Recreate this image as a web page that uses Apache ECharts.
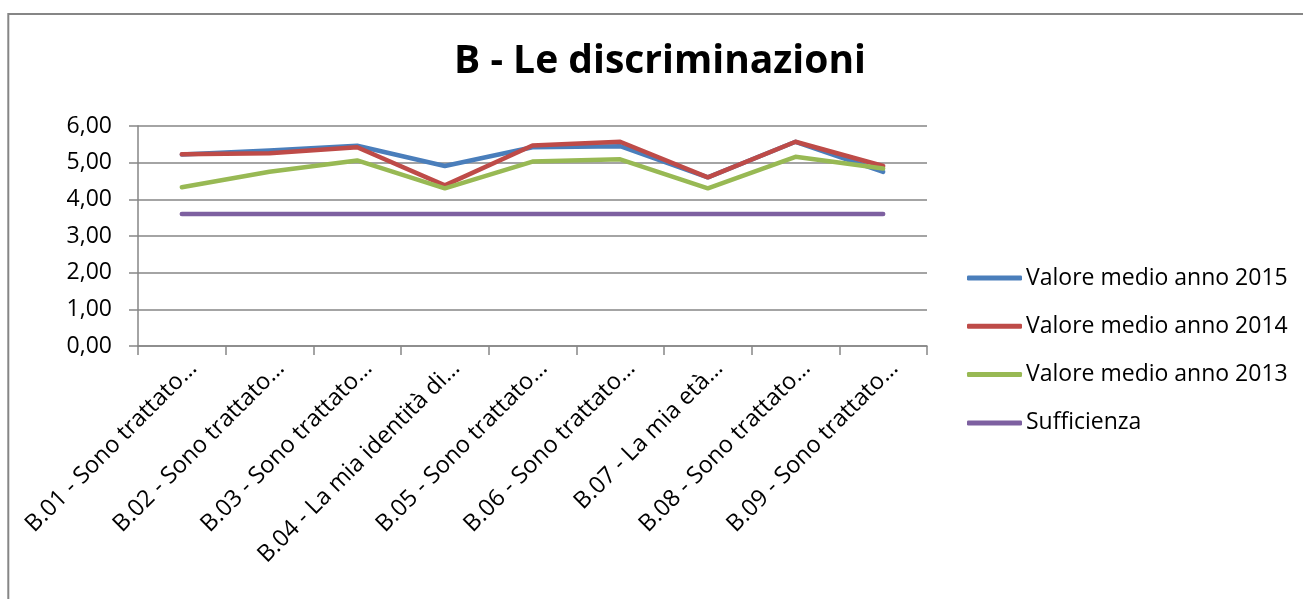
<!DOCTYPE html>
<html>
<head>
<meta charset="utf-8">
<script src="https://cdn.jsdelivr.net/npm/echarts@6/dist/echarts.min.js"></script>
<style>
html,body{margin:0;padding:0;background:#fff;}
#chart{width:1303px;height:599px;}
</style>
</head>
<body>
<div id="chart"></div>
<script>
const categories = [
  "B.01 - Sono trattato…",
  "B.02 - Sono trattato…",
  "B.03 - Sono trattato…",
  "B.04 - La mia identità di…",
  "B.05 - Sono trattato…",
  "B.06 - Sono trattato…",
  "B.07 - La mia età…",
  "B.08 - Sono trattato…",
  "B.09 - Sono trattato…"
];
const seriesNames = ["Valore medio anno 2015", "Valore medio anno 2014", "Valore medio anno 2013", "Sufficienza"];
const values2015 = [5.22, 5.33, 5.46, 4.91, 5.42, 5.45, 4.60, 5.57, 4.75];
const values2014 = [5.23, 5.26, 5.42, 4.38, 5.47, 5.57, 4.60, 5.57, 4.91];
const values2013 = [4.33, 4.75, 5.06, 4.30, 5.03, 5.09, 4.30, 5.16, 4.84];
const sufficienza = [3.6, 3.6, 3.6, 3.6, 3.6, 3.6, 3.6, 3.6, 3.6];
const yTicks = { min: 0, max: 6, interval: 1 };
const colors = ["#4A7EBB", "#BE4B48", "#98B954", "#7D60A0"];

const chart = echarts.init(document.getElementById('chart'), null, { renderer: 'canvas' });
const FONT = "'Open Sans', 'Noto Sans', sans-serif";
const allData = [values2015, values2014, values2013, sufficienza];

chart.setOption({
  animation: false,
  backgroundColor: '#ffffff',
  color: colors,
  title: {
    text: 'B - Le discriminazioni',
    left: 655,
    textAlign: 'center',
    top: 37,
    textStyle: { fontFamily: FONT, fontWeight: 'bold', fontSize: 39, color: '#000' }
  },
  graphic: [{
    type: 'rect',
    shape: { x: 8.3, y: 14, width: 1400, height: 700 },
    style: { fill: null, stroke: '#868686', lineWidth: 2 },
    silent: true, z: -1
  }],
  legend: {
    orient: 'vertical',
    left: 962,
    top: 261,
    itemWidth: 55,
    itemHeight: 5,
    itemGap: 24.3,
    icon: 'roundRect',
    data: seriesNames,
    textStyle: { fontFamily: FONT, fontSize: 23, color: '#000', lineHeight: 24, padding: [0, 0, 0, -1] }
  },
  grid: { left: 138, right: 376, top: 126, bottom: 253, containLabel: false },
  xAxis: {
    type: 'category',
    data: categories,
    boundaryGap: true,
    axisLine: { lineStyle: { color: '#868686', width: 1.5 } },
    axisTick: { show: true, length: 9, lineStyle: { color: '#868686', width: 1.5 } },
    axisLabel: {
      interval: 0,
      rotate: 45,
      margin: 30,
      padding: [0, -16, 0, 0],
      fontFamily: FONT,
      fontSize: 23.5,
      color: '#000'
    },
    splitLine: { show: false }
  },
  yAxis: {
    type: 'value',
    min: yTicks.min,
    max: yTicks.max,
    interval: yTicks.interval,
    axisLine: { show: true, lineStyle: { color: '#868686', width: 1.5 } },
    axisTick: { show: true, length: 9, lineStyle: { color: '#868686', width: 1.5 } },
    axisLabel: {
      margin: 26,
      fontFamily: FONT,
      fontSize: 23,
      color: '#000',
      formatter: v => v.toFixed(2).replace('.', ',')
    },
    splitLine: { show: true, lineStyle: { color: '#868686', width: 1.5 } }
  },
  series: seriesNames.map((n, i) => ({
    name: n,
    type: 'line',
    data: allData[i],
    symbol: 'none',
    showSymbol: false,
    lineStyle: { width: 4.5, color: colors[i], cap: 'round', join: 'round' },
    itemStyle: { color: colors[i] }
  }))
});
</script>
</body>
</html>
